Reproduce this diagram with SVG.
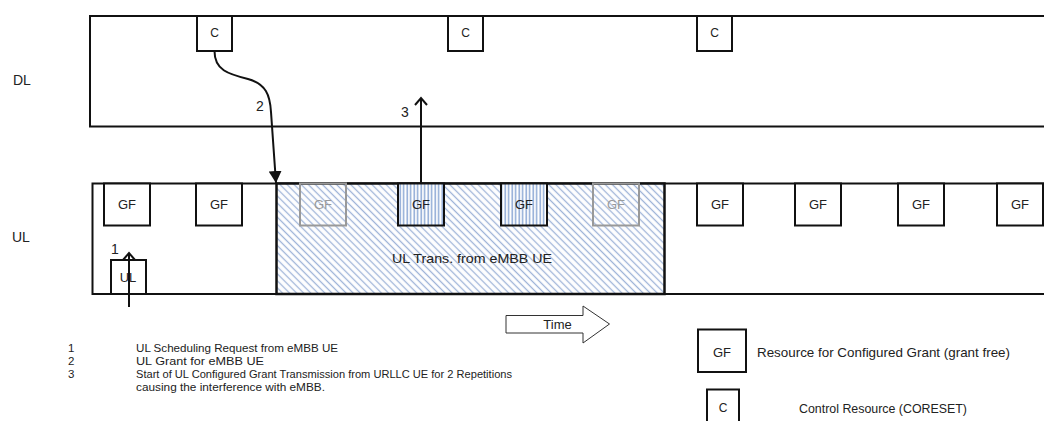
<svg xmlns="http://www.w3.org/2000/svg" width="1044" height="421" viewBox="0 0 1044 421">
<style>
text{font-family:"Liberation Sans",Arial,sans-serif;fill:#222}
.box{fill:#fff;stroke:#111;stroke-width:2}
.lane{fill:none;stroke:#111;stroke-width:2}
.gf{fill:#fff;stroke:#111;stroke-width:2}
.faded{fill:none;stroke:#999;stroke-width:2}
.lbl{font-size:13px;text-anchor:middle;dominant-baseline:central}
.side{font-size:14px;dominant-baseline:central}
.leg{font-size:11.5px;dominant-baseline:central}
.conn{fill:none;stroke:#111;stroke-width:2}
</style>
<defs>
<pattern id="diag" width="5" height="5" patternUnits="userSpaceOnUse" patternTransform="rotate(-45)">
<rect width="5" height="5" fill="#fff"/>
<line x1="2.5" y1="0" x2="2.5" y2="5" stroke="#9fb4d8" stroke-width="1.3"/>
</pattern>
<pattern id="vert" width="3.5" height="4" patternUnits="userSpaceOnUse">
<rect width="3.5" height="4" fill="#fff"/>
<line x1="1.2" y1="0" x2="1.2" y2="4" stroke="#85a3d2" stroke-width="1.4"/>
</pattern>
<marker id="tri" markerWidth="13" markerHeight="13" refX="12" refY="6.5" orient="auto" markerUnits="userSpaceOnUse">
<path d="M0,0 L12,6.5 L0,13 Z" fill="#111"/>
</marker>
<marker id="open" markerWidth="14" markerHeight="14" refX="12" refY="7" orient="auto" markerUnits="userSpaceOnUse">
<path d="M5,1 L12,7 L5,13" fill="none" stroke="#111" stroke-width="2"/>
</marker>
</defs>

<g id="labels">
<text class="side" x="13" y="80">DL</text>
<text class="side" x="12" y="237">UL</text>
</g>

<g id="dl-lane">
<rect class="lane" x="90" y="16" width="970" height="110.5"/>
</g>
<g id="ul-lane">
<rect class="lane" x="92.5" y="183.5" width="970" height="110.5"/>
</g>

<g id="dl-c1"><rect class="box" x="197" y="16" width="35" height="35"/><text class="lbl" x="214.5" y="33" style="font-size:12px">C</text></g>
<g id="dl-c2"><rect class="box" x="448" y="16" width="35" height="35"/><text class="lbl" x="465.5" y="33" style="font-size:12px">C</text></g>
<g id="dl-c3"><rect class="box" x="697" y="16" width="35" height="35"/><text class="lbl" x="714.5" y="33" style="font-size:12px">C</text></g>

<g id="ul-gf1"><rect class="gf" x="104" y="183.5" width="46" height="42"/><text class="lbl" x="127" y="204">GF</text></g>
<g id="ul-gf2"><rect class="gf" x="196" y="183.5" width="46" height="42"/><text class="lbl" x="219" y="204">GF</text></g>

<g id="embb-trans">
<rect x="276.5" y="183.5" width="388" height="110.5" fill="url(#diag)" stroke="#111" stroke-width="2.5"/>
<text class="lbl" x="472" y="258" textLength="160" lengthAdjust="spacingAndGlyphs">UL Trans. from eMBB UE</text>
</g>
<g id="ul-gf3"><rect class="faded" x="300" y="183.5" width="46" height="42"/><text class="lbl" x="323" y="204" style="fill:#9a9a9a">GF</text></g>
<g id="ul-gf4"><rect x="398" y="183.5" width="46" height="42" fill="url(#vert)" stroke="#111" stroke-width="2"/><text class="lbl" x="421" y="204">GF</text></g>
<g id="ul-gf5"><rect x="501" y="183.5" width="46" height="42" fill="url(#vert)" stroke="#111" stroke-width="2"/><text class="lbl" x="524" y="204">GF</text></g>
<g id="ul-gf6"><rect class="faded" x="593" y="183.5" width="46" height="42"/><text class="lbl" x="616" y="204" style="fill:#9a9a9a">GF</text></g>
<g id="ul-gf7"><rect class="gf" x="697" y="183.5" width="46" height="42"/><text class="lbl" x="720" y="204">GF</text></g>
<g id="ul-gf8"><rect class="gf" x="795" y="183.5" width="46" height="42"/><text class="lbl" x="818" y="204">GF</text></g>
<g id="ul-gf9"><rect class="gf" x="898" y="183.5" width="46" height="42"/><text class="lbl" x="921" y="204">GF</text></g>
<g id="ul-gf10"><rect class="gf" x="997" y="183.5" width="46" height="42"/><text class="lbl" x="1020" y="204">GF</text></g>

<g id="ul-sr"><rect class="box" x="111" y="260" width="35" height="34"/><text class="lbl" x="128" y="277">UL</text></g>

<g id="connectors">
<path class="conn" d="M214.5,51 C214.5,70 228,74 248,79 C266,84 270,95 271,112 L276,183" marker-end="url(#tri)"/>
<text class="lbl" x="260" y="106" style="font-size:14px">2</text>
<path class="conn" d="M421,183 L421,98" marker-end="url(#open)"/>
<text class="lbl" x="405" y="112" style="font-size:14px">3</text>
<path class="conn" d="M129,307 L129,253" marker-end="url(#open)"/>
<text class="lbl" x="115" y="249" style="font-size:14px">1</text>
</g>

<g id="time-arrow">
<path d="M506,315.5 L583,315.5 L583,306 L609.5,324 L583,343 L583,333 L506,333 Z" fill="#fff" stroke="#333" stroke-width="1"/>
<text class="lbl" x="557.5" y="324" style="font-size:13px">Time</text>
</g>

<g id="footnotes">
<text class="leg" x="68" y="348">1</text>
<text class="leg" x="136" y="348" textLength="202" lengthAdjust="spacingAndGlyphs">UL Scheduling Request from eMBB UE</text>
<text class="leg" x="68" y="361">2</text>
<text class="leg" x="136" y="361" textLength="128" lengthAdjust="spacingAndGlyphs">UL Grant for eMBB UE</text>
<text class="leg" x="68" y="374">3</text>
<text class="leg" x="136" y="374" textLength="376" lengthAdjust="spacingAndGlyphs">Start of UL Configured Grant Transmission from URLLC UE for 2 Repetitions</text>
<text class="leg" x="136" y="387" textLength="189" lengthAdjust="spacingAndGlyphs">causing the interference with eMBB.</text>
</g>

<g id="legend-gf">
<rect class="gf" x="698" y="329.5" width="48" height="42.5"/>
<text class="lbl" x="722" y="352">GF</text>
<text class="leg" x="757" y="352" style="font-size:13px" textLength="253" lengthAdjust="spacingAndGlyphs">Resource for Configured Grant (grant free)</text>
</g>
<g id="legend-c">
<rect class="gf" x="707" y="389.5" width="32" height="40"/>
<text class="lbl" x="723" y="408" style="font-size:12px">C</text>
<text class="leg" x="799" y="408" style="font-size:13px" textLength="168" lengthAdjust="spacingAndGlyphs">Control Resource (CORESET)</text>
</g>
</svg>
